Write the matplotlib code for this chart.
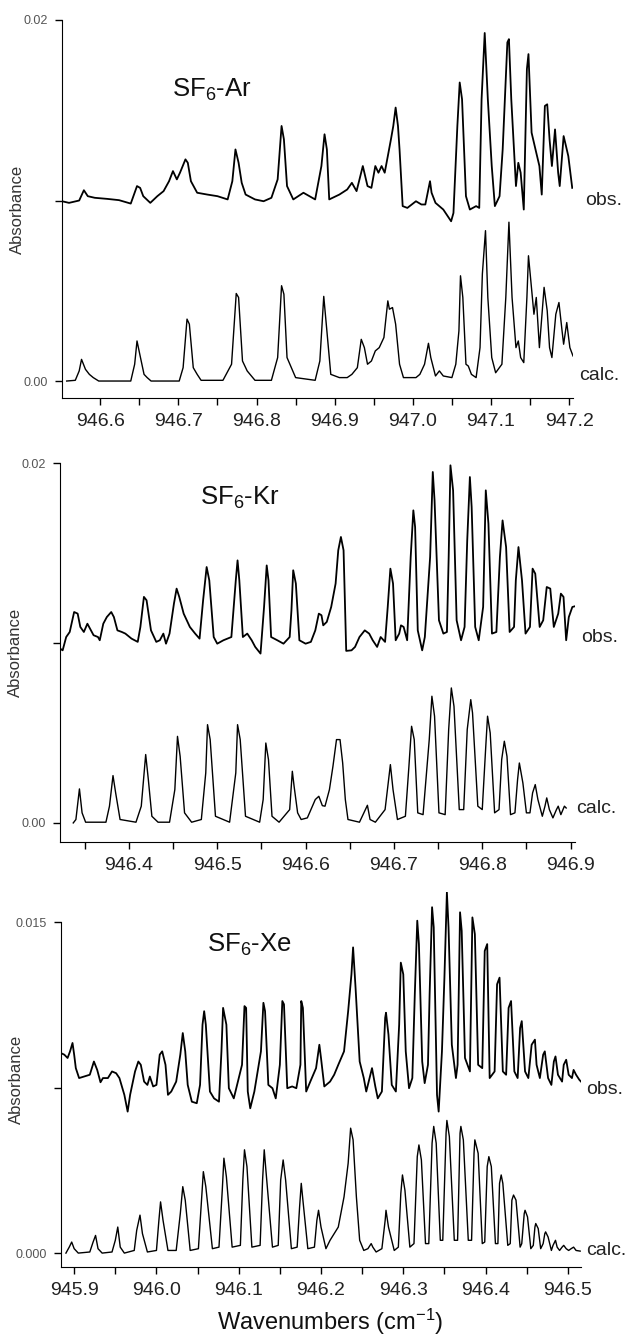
import matplotlib

matplotlib.use("Agg")
import matplotlib.pyplot as plt
import matplotlib.transforms as mtransforms
from matplotlib.ticker import FixedLocator, FixedFormatter, MultipleLocator, FormatStrFormatter

plt.rcParams["font.family"] = ["Liberation Sans", "DejaVu Sans"]
plt.rcParams["mathtext.fontset"] = "custom"
plt.rcParams["mathtext.rm"] = "Liberation Sans"
plt.rcParams["mathtext.it"] = "Liberation Sans:italic"

# spectra: (wavenumber cm-1, absorbance in 1e-3 units)
# obs. traces are given relative to their own baseline, the offset is added when drawing
AR_OBS = [
    (946.551, -0.04), (946.560, -0.13), (946.573, 0.00), (946.579, 0.57), (946.584, 0.24),
    (946.593, 0.15), (946.609, 0.09), (946.624, 0.02), (946.639, -0.17), (946.647, 0.80),
    (946.651, 0.70), (946.655, 0.24), (946.664, -0.13), (946.673, 0.24), (946.681, 0.52),
    (946.688, 1.07), (946.693, 1.63), (946.698, 1.17), (946.702, 1.54), (946.709, 2.28),
    (946.712, 2.09), (946.716, 1.07), (946.724, 0.43), (946.737, 0.33), (946.750, 0.24),
    (946.763, 0.06), (946.769, 1.07), (946.773, 2.83), (946.777, 2.09), (946.781, 0.98),
    (946.786, 0.33), (946.798, 0.06), (946.809, -0.04), (946.819, 0.15), (946.827, 1.17),
    (946.832, 4.13), (946.835, 3.39), (946.839, 0.80), (946.847, 0.06), (946.860, 0.43),
    (946.875, 0.06), (946.883, 1.91), (946.887, 3.67), (946.890, 2.83), (946.893, 0.06),
    (946.906, 0.33), (946.916, 0.61), (946.922, 0.98), (946.928, 0.52), (946.936, 1.91),
    (946.938, 1.54), (946.942, 0.80), (946.947, 0.70), (946.952, 1.91), (946.956, 1.54),
    (946.960, 1.91), (946.964, 1.54), (946.968, 2.46), (946.972, 3.39), (946.975, 4.13),
    (946.978, 5.15), (946.981, 4.13), (946.983, 2.83), (946.987, -0.31), (946.993, -0.41),
    (947.004, -0.04), (947.011, -0.22), (947.016, -0.22), (947.022, 1.07), (947.024, 0.43),
    (947.029, -0.13), (947.039, -0.50), (947.049, -1.15), (947.052, -0.69), (947.057, 4.13),
    (947.060, 6.54), (947.063, 5.61), (947.068, 0.24), (947.073, -0.50), (947.081, -0.31),
    (947.085, -0.41), (947.088, 5.61), (947.092, 9.28), (947.096, 5.61), (947.101, 1.91),
    (947.105, -0.31), (947.111, 0.24), (947.115, 2.83), (947.121, 8.76), (947.123, 8.94),
    (947.126, 5.61), (947.132, 0.80), (947.135, 2.09), (947.138, 1.54), (947.142, -0.50),
    (947.146, 7.28), (947.148, 8.11), (947.152, 3.76), (947.157, 2.83), (947.162, 1.91),
    (947.165, 0.33), (947.169, 5.24), (947.172, 5.33), (947.175, 3.39), (947.178, 1.91),
    (947.182, 3.94), (947.186, 1.54), (947.188, 0.80), (947.193, 3.57), (947.196, 3.02),
    (947.199, 2.46), (947.204, 0.70),
]
AR_CALC = [
    (946.557, 0.00), (946.568, 0.04), (946.573, 0.56), (946.576, 1.20), (946.581, 0.65),
    (946.586, 0.37), (946.591, 0.19), (946.598, 0.00), (946.619, 0.00), (946.639, 0.00),
    (946.644, 0.93), (946.647, 2.22), (946.651, 1.39), (946.656, 0.37), (946.660, 0.19),
    (946.665, 0.00), (946.701, 0.00), (946.706, 0.74), (946.711, 3.43), (946.714, 3.15),
    (946.719, 0.74), (946.724, 0.37), (946.729, 0.04), (946.757, 0.04), (946.768, 0.93),
    (946.774, 4.85), (946.777, 4.63), (946.782, 1.11), (946.788, 0.56), (946.798, 0.04),
    (946.819, 0.04), (946.827, 1.30), (946.832, 5.28), (946.835, 4.81), (946.839, 1.30),
    (946.850, 0.19), (946.875, 0.04), (946.881, 1.11), (946.886, 4.69), (946.890, 2.78),
    (946.895, 0.37), (946.906, 0.19), (946.916, 0.19), (946.922, 0.37), (946.929, 0.74),
    (946.934, 2.31), (946.938, 1.85), (946.942, 0.93), (946.947, 1.11), (946.952, 1.67),
    (946.957, 1.85), (946.963, 2.41), (946.965, 3.24), (946.968, 4.44), (946.970, 3.98),
    (946.974, 4.07), (946.978, 3.15), (946.983, 0.93), (946.988, 0.19), (947.004, 0.19),
    (947.009, 0.37), (947.015, 0.93), (947.020, 2.09), (947.023, 1.30), (947.029, 0.28),
    (947.034, 0.56), (947.039, 0.28), (947.050, 0.19), (947.055, 0.93), (947.059, 2.78),
    (947.061, 5.83), (947.064, 4.63), (947.068, 0.93), (947.071, 0.83), (947.075, 0.37),
    (947.081, 0.19), (947.086, 1.85), (947.089, 5.93), (947.093, 8.33), (947.096, 4.63),
    (947.101, 1.30), (947.106, 0.46), (947.114, 0.93), (947.119, 4.63), (947.123, 8.80),
    (947.127, 4.63), (947.132, 1.85), (947.135, 2.22), (947.138, 1.30), (947.142, 1.02),
    (947.146, 4.63), (947.148, 6.94), (947.151, 5.56), (947.155, 3.70), (947.158, 4.63),
    (947.162, 1.85), (947.168, 5.19), (947.172, 3.89), (947.175, 1.85), (947.178, 1.30),
    (947.183, 3.70), (947.187, 4.35), (947.191, 2.78), (947.193, 2.04), (947.197, 3.24),
    (947.201, 1.85), (947.205, 1.39),
]

KR_OBS = [
    (946.322, -0.31), (946.325, -0.41), (946.329, 0.33), (946.333, 0.61), (946.338, 1.72),
    (946.342, 1.63), (946.345, 0.89), (946.349, 0.61), (946.353, 1.07), (946.356, 0.80),
    (946.360, 0.43), (946.365, 0.33), (946.367, 0.15), (946.371, 1.07), (946.375, 1.44),
    (946.380, 1.72), (946.383, 1.44), (946.387, 0.70), (946.392, 0.61), (946.396, 0.52),
    (946.403, 0.24), (946.410, 0.06), (946.413, 0.89), (946.417, 2.56), (946.420, 2.37),
    (946.425, 0.70), (946.431, 0.06), (946.435, 0.15), (946.439, 0.52), (946.442, -0.04),
    (946.446, 0.52), (946.451, 2.19), (946.454, 3.02), (946.457, 2.56), (946.462, 1.63),
    (946.469, 0.89), (946.475, 0.52), (946.480, 0.24), (946.484, 2.37), (946.488, 4.22),
    (946.491, 3.48), (946.496, 0.33), (946.500, -0.04), (946.507, 0.15), (946.516, 0.33),
    (946.521, 3.48), (946.523, 4.59), (946.525, 3.48), (946.529, 0.33), (946.534, 0.52),
    (946.539, 0.15), (946.543, -0.22), (946.549, -0.59), (946.551, 0.70), (946.553, 2.00),
    (946.556, 4.31), (946.558, 3.48), (946.561, 0.33), (946.568, 0.15), (946.575, -0.04),
    (946.582, 0.33), (946.584, 1.81), (946.586, 4.04), (946.589, 3.30), (946.593, 0.15),
    (946.600, -0.04), (946.606, 0.06), (946.611, 0.70), (946.615, 1.63), (946.618, 1.54),
    (946.620, 0.98), (946.624, 1.17), (946.629, 2.00), (946.634, 3.30), (946.637, 5.15),
    (946.640, 5.89), (946.643, 5.15), (946.646, -0.44), (946.652, -0.41), (946.656, -0.22),
    (946.661, 0.33), (946.667, 0.70), (946.672, 0.52), (946.676, 0.15), (946.681, -0.22),
    (946.685, 0.33), (946.690, 0.06), (946.693, 2.00), (946.696, 4.13), (946.699, 3.30),
    (946.702, 0.15), (946.706, 0.52), (946.708, 0.98), (946.711, 0.89), (946.715, 0.15),
    (946.719, 4.78), (946.722, 7.37), (946.724, 6.44), (946.727, 0.70), (946.732, -0.41),
    (946.735, 0.33), (946.741, 4.78), (946.744, 9.50), (946.746, 7.93), (946.751, 1.26),
    (946.756, 0.52), (946.760, 0.61), (946.762, 4.78), (946.764, 9.87), (946.767, 8.48),
    (946.771, 1.26), (946.776, 0.15), (946.780, 0.89), (946.783, 5.70), (946.786, 9.22),
    (946.788, 7.56), (946.792, 0.89), (946.796, 0.15), (946.801, 2.00), (946.804, 8.48),
    (946.807, 6.63), (946.811, 0.52), (946.816, 0.61), (946.820, 4.78), (946.823, 6.81),
    (946.827, 5.33), (946.831, 0.61), (946.836, 0.89), (946.838, 3.48), (946.841, 5.33),
    (946.845, 3.48), (946.849, 0.52), (946.854, 0.89), (946.857, 4.13), (946.860, 3.85),
    (946.865, 0.89), (946.869, 1.26), (946.873, 3.11), (946.877, 3.02), (946.881, 0.89),
    (946.886, 1.63), (946.889, 2.74), (946.892, 2.56), (946.895, 0.15), (946.898, 1.44),
    (946.902, 2.00), (946.905, 2.04),
]
KR_CALC = [
    (946.337, 0.00), (946.340, 0.19), (946.344, 1.89), (946.347, 0.56), (946.351, 0.04),
    (946.374, 0.04), (946.378, 0.93), (946.382, 2.63), (946.385, 1.67), (946.390, 0.19),
    (946.408, 0.04), (946.414, 0.93), (946.419, 3.80), (946.422, 2.41), (946.426, 0.37),
    (946.433, 0.04), (946.446, 0.04), (946.452, 1.85), (946.455, 4.81), (946.458, 3.70),
    (946.463, 0.56), (946.471, 0.04), (946.482, 0.19), (946.487, 2.78), (946.489, 5.46),
    (946.492, 4.63), (946.498, 0.37), (946.514, 0.04), (946.521, 2.78), (946.523, 5.46),
    (946.526, 4.63), (946.532, 0.37), (946.548, 0.04), (946.552, 1.30), (946.555, 4.44),
    (946.558, 3.52), (946.562, 0.37), (946.570, 0.04), (946.582, 0.74), (946.585, 2.87),
    (946.587, 2.04), (946.591, 0.56), (946.595, 0.19), (946.602, 0.28), (946.611, 1.30),
    (946.615, 1.48), (946.619, 0.96), (946.622, 0.93), (946.627, 1.85), (946.631, 3.15),
    (946.635, 4.63), (946.639, 4.63), (946.642, 3.33), (946.645, 1.30), (946.648, 0.19),
    (946.661, 0.04), (946.666, 0.56), (946.670, 0.98), (946.673, 0.19), (946.679, 0.04),
    (946.690, 0.74), (946.696, 3.24), (946.699, 1.85), (946.704, 0.19), (946.713, 0.37),
    (946.717, 3.15), (946.720, 5.37), (946.723, 4.63), (946.727, 0.56), (946.733, 0.46),
    (946.740, 4.63), (946.743, 7.04), (946.746, 5.93), (946.751, 0.56), (946.758, 0.46),
    (946.762, 5.19), (946.765, 7.50), (946.768, 6.48), (946.774, 0.74), (946.779, 0.74),
    (946.783, 5.19), (946.787, 6.85), (946.789, 6.11), (946.795, 0.93), (946.800, 0.74),
    (946.804, 4.26), (946.806, 5.93), (946.809, 5.00), (946.814, 0.56), (946.819, 0.74),
    (946.822, 3.52), (946.825, 4.54), (946.828, 3.70), (946.832, 0.46), (946.837, 0.56),
    (946.840, 2.41), (946.842, 3.33), (946.846, 2.22), (946.850, 0.56), (946.854, 0.56),
    (946.857, 1.67), (946.860, 2.13), (946.863, 1.30), (946.868, 0.37), (946.871, 0.93),
    (946.873, 1.39), (946.876, 0.74), (946.880, 0.28), (946.884, 0.74), (946.886, 0.93),
    (946.889, 0.46), (946.893, 0.93), (946.895, 0.83),
]

XE_OBS = [
    (945.884, 1.56), (945.888, 1.49), (945.892, 1.34), (945.895, 1.64), (945.898, 2.02),
    (945.900, 1.49), (945.902, 0.88), (945.906, 0.43), (945.912, 0.50), (945.919, 0.58),
    (945.924, 1.18), (945.928, 0.80), (945.932, 0.24), (945.935, 0.43), (945.941, 0.43),
    (945.946, 0.73), (945.951, 0.65), (945.955, 0.43), (945.961, -0.33), (945.965, -1.09),
    (945.968, -0.33), (945.974, 0.73), (945.978, 1.18), (945.981, 1.03), (945.985, 0.27),
    (945.989, 0.12), (945.992, 0.50), (945.996, 0.05), (946.000, 0.12), (946.004, 1.49),
    (946.007, 1.64), (946.011, 1.03), (946.014, -0.33), (946.018, -0.18), (946.024, 0.27),
    (946.029, 1.49), (946.032, 2.47), (946.035, 1.64), (946.038, 0.12), (946.043, -0.64),
    (946.049, -0.71), (946.053, 0.12), (946.056, 2.85), (946.058, 3.46), (946.060, 2.85),
    (946.065, -0.18), (946.070, -0.49), (946.076, -0.64), (946.079, 1.64), (946.081, 3.61),
    (946.085, 2.85), (946.088, -0.03), (946.094, -0.49), (946.104, 1.03), (946.107, 3.69),
    (946.109, 3.61), (946.111, -0.18), (946.114, -0.94), (946.119, -0.18), (946.127, 1.64),
    (946.130, 3.84), (946.132, 3.46), (946.136, 0.12), (946.141, -0.03), (946.145, -0.49),
    (946.150, 1.03), (946.153, 3.92), (946.155, 3.77), (946.159, -0.03), (946.165, 0.05),
    (946.170, -0.03), (946.175, 1.03), (946.176, 3.92), (946.178, 3.61), (946.182, -0.18),
    (946.187, 0.27), (946.194, 0.88), (946.198, 1.94), (946.200, 1.34), (946.204, 0.05),
    (946.211, 0.27), (946.216, 0.58), (946.221, 1.03), (946.228, 1.64), (946.233, 3.46),
    (946.237, 5.13), (946.239, 6.35), (946.242, 4.52), (946.247, 1.18), (946.252, 0.43),
    (946.255, -0.18), (946.260, 0.58), (946.262, 0.88), (946.266, 0.05), (946.269, -0.49),
    (946.274, -0.18), (946.278, 3.16), (946.279, 3.39), (946.282, 2.40), (946.286, 0.12),
    (946.291, -0.18), (946.295, 2.85), (946.297, 5.66), (946.300, 5.13), (946.303, 1.64),
    (946.307, -0.03), (946.311, 0.43), (946.314, 4.22), (946.317, 7.56), (946.319, 6.50),
    (946.323, 1.18), (946.326, 0.20), (946.330, 1.03), (946.332, 4.22), (946.335, 8.17),
    (946.337, 7.26), (946.341, -0.33), (946.343, -1.09), (946.347, 1.64), (946.350, 4.98),
    (946.353, 8.85), (946.355, 7.26), (946.359, 1.94), (946.364, 0.43), (946.366, 1.03),
    (946.369, 7.94), (946.371, 7.10), (946.375, 1.34), (946.381, 0.73), (946.384, 7.71),
    (946.387, 6.95), (946.391, 1.03), (946.396, 0.88), (946.399, 6.19), (946.402, 6.50),
    (946.405, 0.43), (946.411, 0.73), (946.414, 4.68), (946.417, 4.98), (946.421, 0.73),
    (946.425, 0.58), (946.428, 3.61), (946.431, 3.92), (946.435, 0.73), (946.439, 0.43),
    (946.442, 2.70), (946.444, 3.01), (946.448, 0.73), (946.452, 0.43), (946.456, 1.94),
    (946.460, 2.17), (946.462, 1.03), (946.466, 0.43), (946.470, 1.49), (946.472, 1.64),
    (946.476, 0.43), (946.480, 0.12), (946.483, 1.18), (946.485, 1.41), (946.488, 0.58),
    (946.493, 0.27), (946.495, 1.03), (946.498, 1.26), (946.501, 0.58), (946.505, 0.43),
    (946.507, 0.80), (946.510, 0.58), (946.514, 0.35), (946.516, 0.27),
]
XE_CALC = [
    (945.890, 0.00), (945.894, 0.27), (945.897, 0.50), (945.900, 0.20), (945.905, 0.00),
    (945.919, 0.05), (945.923, 0.50), (945.926, 0.80), (945.929, 0.20), (945.934, 0.00),
    (945.946, 0.05), (945.950, 0.58), (945.953, 1.18), (945.956, 0.27), (945.961, 0.00),
    (945.973, 0.12), (945.976, 1.03), (945.980, 1.72), (945.983, 0.88), (945.989, 0.05),
    (946.000, 0.12), (946.003, 1.49), (946.005, 2.32), (946.008, 1.49), (946.014, 0.12),
    (946.024, 0.12), (946.029, 1.79), (946.032, 3.01), (946.035, 2.40), (946.041, 0.12),
    (946.051, 0.20), (946.055, 2.55), (946.057, 3.69), (946.060, 3.01), (946.068, 0.20),
    (946.076, 0.27), (946.080, 2.85), (946.082, 4.30), (946.085, 3.46), (946.092, 0.27),
    (946.102, 0.35), (946.105, 3.31), (946.107, 4.68), (946.110, 3.92), (946.116, 0.27),
    (946.126, 0.35), (946.129, 3.31), (946.131, 4.68), (946.133, 3.77), (946.141, 0.27),
    (946.148, 0.35), (946.151, 3.31), (946.154, 4.22), (946.157, 3.31), (946.164, 0.20),
    (946.171, 0.27), (946.174, 2.10), (946.176, 3.16), (946.178, 2.40), (946.184, 0.20),
    (946.192, 0.27), (946.195, 1.49), (946.197, 1.94), (946.200, 1.18), (946.206, 0.20),
    (946.211, 0.58), (946.216, 0.88), (946.221, 1.18), (946.228, 2.55), (946.233, 4.07),
    (946.236, 5.66), (946.239, 5.13), (946.243, 2.55), (946.247, 0.58), (946.252, 0.12),
    (946.257, 0.20), (946.261, 0.43), (946.263, 0.27), (946.267, 0.05), (946.274, 0.20),
    (946.278, 1.49), (946.279, 1.94), (946.282, 1.18), (946.289, 0.12), (946.294, 0.27),
    (946.297, 2.70), (946.299, 3.54), (946.302, 2.85), (946.308, 0.27), (946.313, 0.43),
    (946.317, 4.37), (946.319, 4.90), (946.322, 4.22), (946.327, 0.43), (946.331, 0.43),
    (946.335, 4.98), (946.337, 5.74), (946.340, 4.98), (946.345, 0.58), (946.348, 0.58),
    (946.352, 5.43), (946.353, 6.01), (946.356, 5.28), (946.362, 0.58), (946.366, 0.58),
    (946.369, 5.43), (946.370, 5.74), (946.373, 5.13), (946.379, 0.58), (946.383, 0.58),
    (946.386, 4.52), (946.387, 5.13), (946.391, 4.52), (946.396, 0.43), (946.399, 0.50),
    (946.402, 3.92), (946.404, 4.37), (946.407, 3.92), (946.412, 0.43), (946.415, 0.43),
    (946.417, 3.16), (946.419, 3.54), (946.421, 3.16), (946.427, 0.35), (946.430, 0.43),
    (946.432, 2.40), (946.434, 2.63), (946.437, 2.40), (946.442, 0.27), (946.444, 0.43),
    (946.447, 1.79), (946.448, 1.94), (946.451, 1.64), (946.455, 0.20), (946.458, 0.35),
    (946.460, 1.18), (946.461, 1.34), (946.464, 1.11), (946.467, 0.20), (946.470, 0.43),
    (946.472, 0.88), (946.473, 0.96), (946.476, 0.73), (946.480, 0.12), (946.482, 0.35),
    (946.485, 0.58), (946.487, 0.27), (946.490, 0.12), (946.493, 0.27), (946.495, 0.35),
    (946.498, 0.20), (946.501, 0.12), (946.504, 0.20), (946.507, 0.27), (946.510, 0.12),
    (946.515, 0.09),
]

AR_YTICKS = [0.0, 0.01, 0.02]
AR_YLABELS = ["0.00", "", "0.02"]
KR_YTICKS = [0.0, 0.01, 0.02]
KR_YLABELS = ["0.00", "", "0.02"]
XE_YTICKS = [0.0, 0.0075, 0.015]
XE_YLABELS = ["0.000", "", "0.015"]

# panel layout in pixels of the 625x1344 canvas: left, right, top, bottom
PANELS = [
    dict(title=r"SF$_6$-Ar", obs=AR_OBS, calc=AR_CALC, offset=0.01,
         xlim=(946.551, 947.205), ylim=(-0.00094, 0.02), yticks=AR_YTICKS, ylabels=AR_YLABELS,
         box=(62, 573, 20, 398), title_pos=(0.215, 0.797),
         obs_pos=(1.023, 0.0100), calc_pos=(1.012, 0.0003)),
    dict(title=r"SF$_6$-Kr", obs=KR_OBS, calc=KR_CALC, offset=0.01,
         xlim=(946.322, 946.905), ylim=(-0.00106, 0.02), yticks=KR_YTICKS, ylabels=KR_YLABELS,
         box=(60, 575, 463, 842), title_pos=(0.272, 0.889),
         obs_pos=(1.012, 0.0103), calc_pos=(1.002, 0.0008)),
    dict(title=r"SF$_6$-Xe", obs=XE_OBS, calc=XE_CALC, offset=0.0075,
         xlim=(945.884, 946.516), ylim=(-0.00063, 0.01636), yticks=XE_YTICKS, ylabels=XE_YLABELS,
         box=(61, 581, 892, 1267), title_pos=(0.281, 0.84),
         obs_pos=(1.010, 0.0074), calc_pos=(1.010, 0.0001)),
]

W, H = 625, 1344
fig = plt.figure(figsize=(W / 100, H / 100), dpi=100)

for p in PANELS:
    l, r, t, b = p["box"]
    ax = fig.add_axes([l / W, 1 - b / H, (r - l) / W, (b - t) / H])

    ox = [x for x, _ in p["obs"]]
    oy = [y / 1000 + p["offset"] for _, y in p["obs"]]
    cx = [x for x, _ in p["calc"]]
    cy = [y / 1000 for _, y in p["calc"]]
    ax.plot(ox, oy, color="black", lw=1.3)
    ax.plot(cx, cy, color="black", lw=1.0)

    ax.set_xlim(*p["xlim"])
    ax.set_ylim(*p["ylim"])
    for side in ["top", "right"]:
        ax.spines[side].set_visible(False)
    ax.spines["left"].set_bounds(p["ylim"][0], p["yticks"][-1])

    ax.xaxis.set_major_locator(MultipleLocator(0.1))
    ax.xaxis.set_minor_locator(MultipleLocator(0.05))
    ax.xaxis.set_major_formatter(FormatStrFormatter("%.1f"))
    ax.tick_params(axis="x", which="both", direction="out", length=5, width=1,
                   labelsize=14, labelcolor="#222222", pad=6)

    ax.yaxis.set_major_locator(FixedLocator(p["yticks"]))
    ax.yaxis.set_major_formatter(FixedFormatter(p["ylabels"]))
    ax.tick_params(axis="y", direction="out", length=5, width=1,
                   labelsize=9, labelcolor="#555555", pad=5)

    ax.set_ylabel("Absorbance", fontsize=12, color="#333333")
    ax.yaxis.set_label_coords(-0.072, 0.5)

    ax.text(p["title_pos"][0], p["title_pos"][1], p["title"], transform=ax.transAxes,
            fontsize=18.5, color="#111111", va="baseline", ha="left")

    trans = mtransforms.blended_transform_factory(ax.transAxes, ax.transData)
    ax.text(p["obs_pos"][0], p["obs_pos"][1], "obs.", transform=trans,
            fontsize=14, color="#222222", va="center", ha="left", clip_on=False)
    ax.text(p["calc_pos"][0], p["calc_pos"][1], "calc.", transform=trans,
            fontsize=14, color="#222222", va="center", ha="left", clip_on=False)

fig.text(330 / W, 1 - 1322 / H, r"Wavenumbers (cm$^{-1}$)", fontsize=17,
         color="#111111", ha="center", va="center")

fig.savefig("out.png", dpi=100)
